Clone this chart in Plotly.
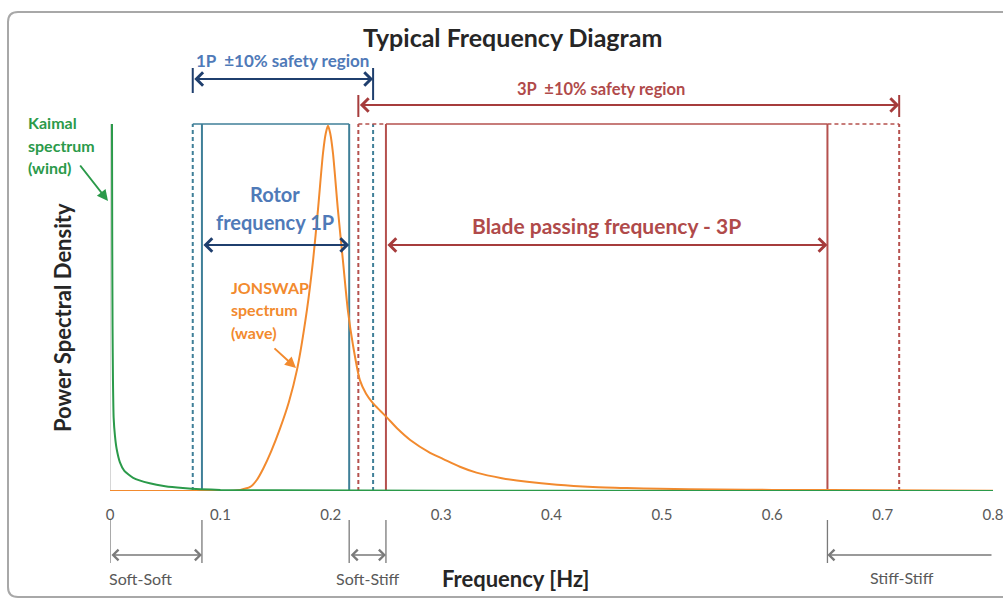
import plotly.graph_objects as go

# ---------------- data ----------------
freq_ticks = [0, 0.1, 0.2, 0.3, 0.4, 0.5, 0.6, 0.7, 0.8]
tick_labels = ["0", "0.1", "0.2", "0.3", "0.4", "0.5", "0.6", "0.7", "0.8"]

kaimal_f = [0.0018, 0.002, 0.0023, 0.0027, 0.0033, 0.0045, 0.006, 0.009, 0.013,
            0.021, 0.036, 0.05, 0.066, 0.082, 0.1, 0.15, 0.3, 0.55, 0.8]
kaimal_psd = [1.0, 0.7, 0.45, 0.3, 0.2, 0.15, 0.115, 0.078, 0.055,
              0.036, 0.021, 0.013, 0.008, 0.005, 0.003, 0.002, 0.001, 0.0, 0.0]

jonswap_f = [0.0, 0.10, 0.112, 0.118, 0.127, 0.133, 0.139, 0.146, 0.154, 0.162,
             0.1694, 0.1784, 0.184, 0.1884, 0.193, 0.1955, 0.1975, 0.1995, 0.202,
             0.2065, 0.211, 0.2156, 0.22, 0.2264, 0.232, 0.238, 0.245, 0.251, 0.261,
             0.272, 0.29, 0.302, 0.317, 0.332, 0.355, 0.378, 0.405, 0.4375, 0.468,
             0.498, 0.55, 0.6, 0.7, 0.8]
jonswap_psd = [0.0, 0.0, 0.001, 0.003, 0.011, 0.030, 0.062, 0.108, 0.170, 0.242,
               0.33, 0.493, 0.629, 0.766, 0.921, 0.975, 0.995, 0.975, 0.921,
               0.766, 0.629, 0.49, 0.40, 0.302, 0.265, 0.24, 0.218, 0.20, 0.168,
               0.139, 0.104, 0.087, 0.066, 0.050, 0.035, 0.025, 0.017, 0.011, 0.008,
               0.006, 0.004, 0.003, 0.002, 0.001]

rotor_1p = [0.0833, 0.2167]     # Hz
blade_3p = [0.25, 0.65]         # Hz
safety = 0.10

# ---------------- geometry / style ----------------
W, H = 1003, 601
L, R, T, B = 110, 10, 20, 110
PW, PH = W - L - R, H - T - B
YMAX = PH / 367.0


def px_x(px):
    return (px - L) / PW


def px_y(py):
    return (H - B - py) / PH


def dy(py):
    return (H - B - py) / 367.0


FONT = "Lato"
GREEN = "#2b9a4a"
ORANGE = "#f28a2e"
TEAL = "#3f7f98"
RED = "#b5514e"
DBLUE = "#1f3f6e"
DRED = "#a63c3c"
BLUE_TXT = "#4f7ab8"
RED_TXT = "#b04a4a"
GRAY = "#7a7a7a"
TXT_GRAY = "#595959"

s1 = [rotor_1p[0] * (1 - safety), rotor_1p[1] * (1 + safety)]
s3 = [blade_3p[0] * (1 - safety), blade_3p[1] * (1 + safety)]

fig = go.Figure()
fig.add_trace(go.Scatter(x=jonswap_f, y=jonswap_psd, mode="lines",
                         line=dict(color=ORANGE, width=2, shape="spline", smoothing=0.7),
                         hoverinfo="skip"))
fig.add_trace(go.Scatter(x=kaimal_f, y=kaimal_psd, mode="lines",
                         line=dict(color=GREEN, width=2, shape="spline", smoothing=0.5),
                         hoverinfo="skip"))

shapes = []


def vline(x, color, dash, y0=0, y1=1.0, width=2, yref="y", layer="below"):
    shapes.append(dict(type="line", xref="x", yref=yref, x0=x, x1=x, y0=y0, y1=y1,
                       line=dict(color=color, width=width, dash=dash), layer=layer))


def hline(x0, x1, y, color, dash, width=2):
    shapes.append(dict(type="line", xref="x", yref="y", x0=x0, x1=x1, y0=y, y1=y,
                       line=dict(color=color, width=width, dash=dash), layer="below"))


DASH = "4px,3px"
# y axis light line
vline(0, "#c8c8c8", "solid", width=1.5)
# 1P region
vline(s1[0], TEAL, DASH)
vline(s1[1], TEAL, DASH)
vline(rotor_1p[0], TEAL, "solid")
vline(rotor_1p[1], TEAL, "solid")
hline(s1[0], rotor_1p[1], 1.0, TEAL, "solid", 1.5)
# 3P region
vline(s3[0], RED, DASH)
vline(s3[1], RED, DASH)
vline(blade_3p[0], RED, "solid")
vline(blade_3p[1], RED, "solid")
hline(s3[0], blade_3p[0], 1.0, RED, DASH, 1.5)
hline(blade_3p[0], blade_3p[1], 1.0, RED, "solid", 1.5)
hline(blade_3p[1], s3[1], 1.0, RED, DASH, 1.5)

# safety region end ticks
vline(s1[0], DBLUE, "solid", dy(68), dy(93), 2, layer="above")
vline(s1[1], DBLUE, "solid", dy(68), dy(100), 2, layer="above")
vline(s3[0], DRED, "solid", dy(95), dy(117), 2, layer="above")
vline(s3[1], DRED, "solid", dy(95), dy(117), 2, layer="above")

# below-axis markers
for xv in [0, rotor_1p[0], rotor_1p[1], blade_3p[0], blade_3p[1]]:
    vline(xv, GRAY, "solid", px_y(520), px_y(563), 1.3, yref="paper", layer="above")

# frame (rounded rectangle)
x0f, x1f, y0f, y1f, rr = 8, 1030, 12, 597, 10
path = (f"M {px_x(x0f + rr)},{px_y(y0f)} L {px_x(x1f)},{px_y(y0f)} "
        f"L {px_x(x1f)},{px_y(y1f)} L {px_x(x0f + rr)},{px_y(y1f)} "
        f"Q {px_x(x0f)},{px_y(y1f)} {px_x(x0f)},{px_y(y1f - rr)} "
        f"L {px_x(x0f)},{px_y(y0f + rr)} "
        f"Q {px_x(x0f)},{px_y(y0f)} {px_x(x0f + rr)},{px_y(y0f)} Z")
shapes.append(dict(type="path", xref="paper", yref="paper", path=path,
                   line=dict(color="#a8a8a8", width=2), layer="below"))

annotations = []


def text(x, y, s, size, color, bold=True, xref="x", yref="y", xanchor="center",
         textangle=0):
    annotations.append(dict(x=x, y=y, xref=xref, yref=yref, text=(f"<b>{s}</b>" if bold else s),
                            showarrow=False, xanchor=xanchor, yanchor="middle",
                            textangle=textangle,
                            font=dict(family=FONT, size=size, color=color)))


def arrow(x_end, x_start, y, color, both=True, width=2, yref="y", head=4, size=1.3):
    annotations.append(dict(x=x_end, y=y, xref="x", yref=yref, ax=x_start, ay=0,
                            axref="x", ayref="pixel", text="", showarrow=True,
                            arrowhead=head, startarrowhead=head, arrowsize=size,
                            startarrowsize=size,
                            arrowside="end+start" if both else "end",
                            arrowwidth=width, arrowcolor=color,
                            standoff=0, startstandoff=0))


# title and axis titles
text(px_x(512), px_y(37), "Typical Frequency Diagram", 25, "#262626", xref="paper", yref="paper")
text(px_x(515), px_y(578), "Frequency [Hz]", 22, "#262626", xref="paper", yref="paper")
text(px_x(62), px_y(318), "Power Spectral Density", 22, "#262626", xref="paper", yref="paper",
     textangle=-90)

# safety region labels and arrows
text((s1[0] + s1[1]) / 2, dy(60), "1P  ±10% safety region", 17, BLUE_TXT)
arrow(s1[1], s1[0], dy(79), DBLUE)
text(0.445, dy(89), "3P  ±10% safety region", 16.5, RED_TXT)
arrow(s3[1], s3[0], dy(105), DRED)

# rotor / blade labels
text(0.1495, dy(194), "Rotor", 20, BLUE_TXT)
text(0.1495, dy(222), "frequency 1P", 20, BLUE_TXT)
arrow(rotor_1p[1], rotor_1p[0], dy(245), DBLUE)
text((blade_3p[0] + blade_3p[1]) / 2, dy(225), "Blade passing frequency - 3P", 21, RED_TXT)
arrow(blade_3p[1], blade_3p[0], dy(245), DRED)

# spectrum labels
text(px_x(26), px_y(123), "Kaimal", 16, GREEN, xref="paper", yref="paper", xanchor="left")
text(px_x(26), px_y(145), "spectrum", 16, GREEN, xref="paper", yref="paper", xanchor="left")
text(px_x(26), px_y(167), "(wind)", 16, GREEN, xref="paper", yref="paper", xanchor="left")
annotations.append(dict(x=px_x(108), y=px_y(201), xref="paper", yref="paper", ax=-29, ay=-37,
                        text="", showarrow=True, arrowhead=2, arrowsize=1.1, arrowwidth=2,
                        arrowcolor=GREEN, standoff=0))

text(px_x(229), px_y(287), "JONSWAP", 16, ORANGE, xref="paper", yref="paper", xanchor="left")
text(px_x(229), px_y(309), "spectrum", 16, ORANGE, xref="paper", yref="paper", xanchor="left")
text(px_x(229), px_y(332), "(wave)", 16, ORANGE, xref="paper", yref="paper", xanchor="left")
annotations.append(dict(x=px_x(296), y=px_y(368), xref="paper", yref="paper", ax=-23, ay=-21,
                        text="", showarrow=True, arrowhead=2, arrowsize=1.1, arrowwidth=2,
                        arrowcolor=ORANGE, standoff=0))

# below-axis regions
arrow(rotor_1p[0], 0, px_y(555), GRAY, both=True, width=1.3, yref="paper", size=1.6)
arrow(blade_3p[0], rotor_1p[1], px_y(555), GRAY, both=True, width=1.3, yref="paper", size=1.6)
arrow(blade_3p[1], 0.8, px_y(555), GRAY, both=False, width=1.3, yref="paper", size=1.6)
text(0.0276, px_y(578), "Soft-Soft", 16, TXT_GRAY, bold=False, yref="paper")
text((rotor_1p[1] + blade_3p[0]) / 2, px_y(578), "Soft-Stiff", 16, TXT_GRAY, bold=False, yref="paper")
text(0.7175, px_y(577), "Stiff-Stiff", 16, TXT_GRAY, bold=False, yref="paper")

fig.update_layout(
    width=W, height=H, autosize=False,
    margin=dict(l=L, r=R, t=T, b=B, autoexpand=False),
    paper_bgcolor="white", plot_bgcolor="white",
    showlegend=False,
    shapes=shapes, annotations=annotations,
    font=dict(family=FONT),
    xaxis=dict(range=[0, 0.8], tickvals=freq_ticks, ticktext=tick_labels,
               showgrid=False, zeroline=False, showline=False, automargin=False,
               ticks="outside", ticklen=10, tickcolor="rgba(0,0,0,0)",
               ticklabeloverflow="allow",
               tickfont=dict(family=FONT, size=15, color=TXT_GRAY)),
    yaxis=dict(range=[0, YMAX], showticklabels=False, showgrid=False, automargin=False,
               zeroline=False, showline=False, ticks=""),
)

fig.write_html("out.html")
